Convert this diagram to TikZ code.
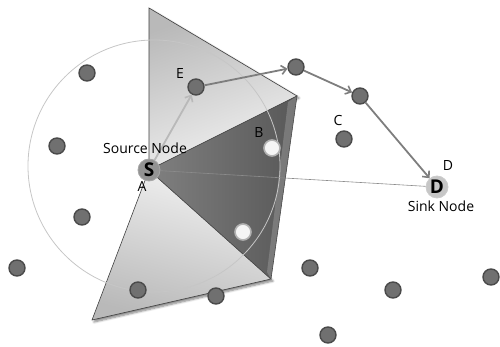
\documentclass[tikz,border=0pt]{standalone}
\usepackage{fontspec}
\setmainfont{Open Sans}
\usetikzlibrary{arrows.meta,shadows.blur}
\definecolor{nodefill}{HTML}{707070}
\definecolor{nodeedge}{HTML}{4A4A4A}
\definecolor{arrowc}{HTML}{7E7E7E}
\begin{document}
\begin{tikzpicture}[x=1pt,y=-1pt,
  sensor/.style={circle,draw=nodeedge,fill=nodefill,line width=1.4pt,minimum size=16pt,inner sep=0pt},
  lightnode/.style={circle,draw=gray!60,fill=gray!8,line width=1.6pt,minimum size=16pt,inner sep=0pt},
  lbl/.style={font=\fontsize{14}{15}\selectfont,inner sep=0pt},
  hop/.style={draw=arrowc,line width=1.8pt,-{Straight Barb[length=5pt,width=9pt,line width=1.6pt]}},
  tri/.style={draw=black!75,line width=0.6pt},
  endnode/.style={circle,line width=0.8pt,minimum size=22pt,inner sep=0pt,font=\fontsize{19}{19}\selectfont\bfseries}]
\useasboundingbox (0,0) rectangle (500,347);
% triangle corners
\coordinate (tA) at (149,8);
\coordinate (tB) at (297,96);
\coordinate (tC) at (271,279);
\coordinate (tD) at (92,320);
\coordinate (sc) at (149,170);
% light upper triangle
\shade[top color=gray!55,bottom color=gray!10,shading angle=20,blur shadow={shadow blur steps=6,shadow xshift=2pt,shadow yshift=-2pt,shadow opacity=50}] (tA) -- (tB) -- (sc) -- cycle;
\draw[tri] (tA) -- (tB) -- (sc) -- cycle;
% lower light triangle
\shade[top color=gray!10,bottom color=gray!55,shading angle=-15,blur shadow={shadow blur steps=6,shadow xshift=2pt,shadow yshift=-2pt,shadow opacity=50}] (sc) -- (tC) -- (tD) -- cycle;
\draw[tri] (sc) -- (tC) -- (tD) -- cycle;
% dark triangle
\shade[left color={rgb,255:red,128;green,128;blue,128}, right color={rgb,255:red,88;green,88;blue,88}] (sc) -- (tB) -- (tC) -- cycle;
\fill[gray!75,opacity=0.45] (tB) -- (tC) -- (267,272) -- (288,102) -- cycle;
\draw[black!70,line width=0.6pt] (sc) -- (tB) -- (tC) -- cycle;
% range circle
\draw[gray!45,line width=0.8pt] (154,166) circle[radius=126];
% nodes
\node[sensor] (n1) at (87,73) {};
\node[sensor] (n2) at (57,146) {};
\node[sensor] (n3) at (82,217) {};
\node[sensor] (n4) at (17,268) {};
\node[sensor] (n5) at (138,290) {};
\node[sensor] (n6) at (216,296) {};
\node[sensor] (n7) at (310,268) {};
\node[sensor] (n8) at (393,290) {};
\node[sensor] (n9) at (491,277) {};
\node[sensor] (n10) at (328,335) {};
\node[sensor] (c) at (344,139) {};
\node[sensor] (e) at (196,87) {};
\node[sensor] (h1) at (296,67) {};
\node[sensor] (h2) at (360,96) {};
\node[lightnode] (b) at (272,148) {};
\node[lightnode] (w2) at (243,232) {};
\node[endnode,fill=gray!85,draw=gray!70] (s) at (149,170) {S};
\node[endnode,fill=gray!45,draw=gray!40] (d) at (437,187) {D};
% S-D line
\draw[gray!90,line width=0.6pt] (s) -- (d);
% route
\draw[hop,draw=gray!55] (s) -- (e);
\draw[hop] (e) -- (h1);
\draw[hop] (h1) -- (h2);
\draw[hop] (h2) -- (d);
% labels
\node[lbl] (le) at (180,74) {E};
\node[lbl] (lb) at (259,133) {B};
\node[lbl] (lc) at (338,121) {C};
\node[lbl] (ld) at (448,166) {D};
\node[lbl] (la) at (142,186) {A};
\node[lbl] (ls) at (145,148) {Source Node};
\node[lbl] (lk) at (441,206) {Sink Node};
\end{tikzpicture}
\end{document}
